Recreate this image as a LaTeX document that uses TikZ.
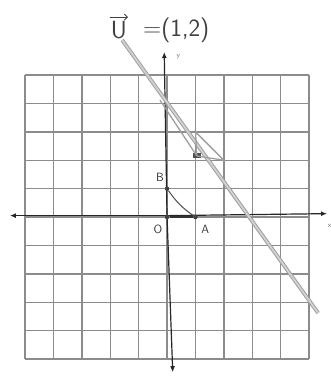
\documentclass[tikz,border=0pt]{standalone}
\usetikzlibrary{arrows.meta}
\begin{document}
\begin{tikzpicture}[x=1cm,y=1cm,
  gridline/.style={draw=black!45, line width=1.4pt},
  axisline/.style={draw=black!85, line width=1.2pt, -{Latex[length=6pt,width=5pt]}},
  mainline/.style={draw=gray!75, double=gray!35, double distance=1.8pt, line width=1pt},
  sideline/.style={draw=gray!75, line width=1.3pt},
  dotpt/.style={circle, fill=black!75, inner sep=0pt, minimum size=4.5pt},
  lbl/.style={font=\sffamily\large, text=black!80},
  ttl/.style={font=\sffamily\Huge, text=black!75, inner sep=1pt},
]
\useasboundingbox (-5.88,-5.70) rectangle (5.74,7.64);
% grid
\foreach \i in {-5,...,5} {
  \draw[gridline] (\i,-5) -- (\i,5);
  \draw[gridline] (-5,\i) -- (5,\i);
}
% axes
\coordinate (xl) at (-5.53,0.05);
\coordinate (xr) at (5.63,0.12);
\coordinate (yb) at (0.2,-5.46);
\coordinate (yt) at (-0.1,5.81);
\draw[axisline] (0,0.05) -- (xl);
\draw[axisline] (0,0.05) -- (xr);
\draw[axisline] (0,0) -- (yb);
\draw[axisline] (0,0) -- (yt);
\node[font=\sffamily\scriptsize, text=black!60] (ylab) at (0.4,5.65) {y};
\node[font=\sffamily\scriptsize, text=black!60] (xlab) at (5.72,-0.3) {x};
% main line
\coordinate (m1) at (-1.58,6.23);
\coordinate (m2) at (5.32,-3.38);
\draw[mainline] (m1) -- (m2);
% second line and small triangle
\coordinate (s1) at (-0.25,4.12);
\node[fill=black!70, minimum width=8pt, minimum height=5pt, inner sep=0pt] (P) at (1.05,2.15) {};
\coordinate (Q) at (2.0,2.0);
\coordinate (R) at (1.0,3.0);
\draw[sideline] (s1) -- (P.center);
\draw[sideline] (P.center) -- (Q) -- (R) -- (P.center);
% points
\node[dotpt] (O) at (0,0) {};
\node[dotpt] (A) at (1,0) {};
\node[dotpt] (B) at (0,1) {};
\draw[black!80, line width=1.5pt] (O) -- (A);
\draw[black!70, line width=1pt] (B) to[bend right=10] (A);
\node[lbl] (Bl) at (-0.25,1.41) {B};
\node[lbl] (Ol) at (-0.32,-0.42) {O};
\node[lbl] (Al) at (1.34,-0.42) {A};
% title
\node[ttl] (U) at (-1.7,6.58) {U};
\node[ttl, anchor=west] (eq) at ([xshift=14pt]U.east) {=(1,2)};
\coordinate (ua) at ([yshift=3pt]U.north west);
\coordinate (ub) at ([yshift=3pt]U.north east);
\draw[black!75, line width=0.9pt, -{Straight Barb[length=3pt]}] (ua) -- (ub);
\end{tikzpicture}
\end{document}
